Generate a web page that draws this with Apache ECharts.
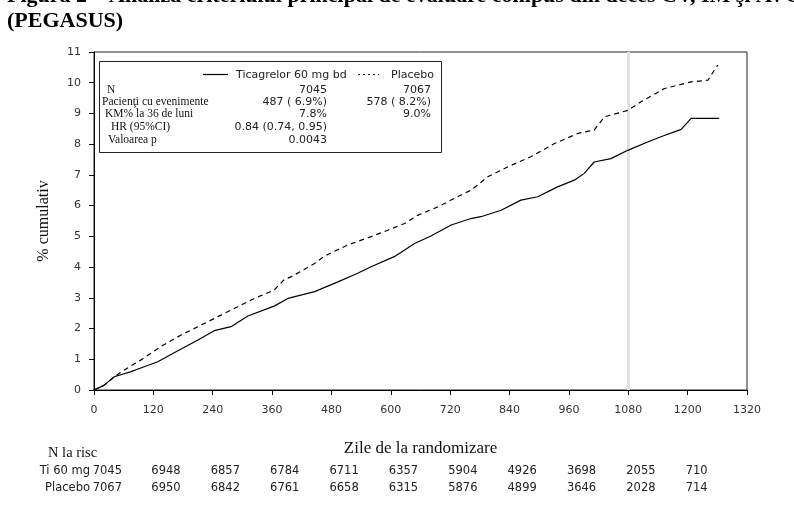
<!DOCTYPE html>
<html>
<head>
<meta charset="utf-8">
<script src="https://cdn.jsdelivr.net/npm/echarts@6.0.0/dist/echarts.min.js"></script>
<style>
html, body { margin: 0; padding: 0; background: #fff; }
#chart { width: 794px; height: 521px; }
</style>
</head>
<body>
<div id="chart"></div>
<script>
// curbe Kaplan-Meier (zile, % cumulativ)
var ticaDays = [0, 20, 41, 75, 100, 129, 162, 210, 243, 277, 311, 364, 392, 446, 493, 533, 560, 607, 648, 681, 722, 762, 782, 823, 863, 897, 937, 971, 991, 1011, 1045, 1079, 1119, 1146, 1187, 1207, 1264];
var ticaPct  = [0, 0.15, 0.43, 0.6, 0.75, 0.92, 1.21, 1.63, 1.93, 2.06, 2.41, 2.73, 2.98, 3.2, 3.52, 3.8, 4.01, 4.34, 4.77, 5.01, 5.37, 5.58, 5.64, 5.85, 6.18, 6.29, 6.61, 6.83, 7.05, 7.42, 7.53, 7.8, 8.07, 8.24, 8.48, 8.84, 8.84];
var placDays = [0, 20, 41, 61, 95, 135, 176, 230, 277, 324, 364, 385, 398, 446, 466, 513, 560, 594, 628, 655, 695, 735, 762, 796, 836, 883, 931, 978, 1011, 1032, 1079, 1106, 1153, 1207, 1241, 1254, 1261];
var placPct  = [0, 0.15, 0.43, 0.65, 0.98, 1.41, 1.79, 2.22, 2.6, 2.98, 3.25, 3.6, 3.68, 4.12, 4.36, 4.72, 4.99, 5.2, 5.42, 5.69, 5.96, 6.29, 6.5, 6.94, 7.26, 7.59, 8.02, 8.35, 8.46, 8.89, 9.1, 9.38, 9.81, 10.03, 10.08, 10.41, 10.57];

var seriesNames = ['Ticagrelor 60 mg bd', 'Placebo'];

// caseta cu statistici
var statLabels = ['N', 'Pacienţi cu evenimente', 'KM% la 36 de luni', 'HR (95%CI)', 'Valoarea p'];
var statTica = ['7045', '487 ( 6.9%)', '7.8%', '0.84 (0.74, 0.95)', '0.0043'];
var statPlac = ['7067', '578 ( 8.2%)', '9.0%', '', ''];

// tabel N la risc
var riskDays = [0, 120, 240, 360, 480, 600, 720, 840, 960, 1080, 1200];
var riskLabels = ['Ti 60 mg', 'Placebo'];
var riskTica = [7045, 6948, 6857, 6784, 6711, 6357, 5904, 4926, 3698, 2055, 710];
var riskPlac = [7067, 6950, 6842, 6761, 6658, 6315, 5876, 4899, 3646, 2028, 714];

var titleLines = ['Figura 2 – Analiza criteriului principal de evaluare compus din deces CV, IM şi AVC', '(PEGASUS)'];

var SANS = '"DejaVu Sans"';
var SERIF = '"Liberation Serif"';

function pairs(xs, ys) {
    var res = [];
    for (var i = 0; i < xs.length; i++) {
        res.push([xs[i], ys[i]]);
    }
    return res;
}

var myChart = echarts.init(document.getElementById('chart'), null, {renderer: 'canvas'});

var option = {
    animation: false,
    backgroundColor: '#fff',
    grid: {
        left: 94, right: 47, top: 52, bottom: 131,
        show: true, borderColor: '#222', borderWidth: 1
    },
    xAxis: {
        type: 'value',
        min: 0, max: 1320, interval: 120,
        name: 'Zile de la randomizare',
        nameLocation: 'middle',
        nameGap: 50,
        nameTextStyle: {fontFamily: SERIF, fontSize: 17, color: '#111'},
        axisLine: {lineStyle: {color: '#000', width: 1}},
        axisTick: {inside: false, length: 5, lineStyle: {color: '#000'}},
        axisLabel: {
            margin: 15, fontFamily: SANS, fontSize: 11, color: '#333',
            formatter: function (v) { return String(v); }
        },
        splitLine: {show: false}
    },
    yAxis: {
        type: 'value',
        min: 0, max: 11, interval: 1,
        name: '% cumulativ',
        nameLocation: 'middle',
        nameRotate: 90,
        nameGap: 42,
        nameTextStyle: {fontFamily: SERIF, fontSize: 16, color: '#111'},
        axisLine: {show: true, lineStyle: {color: '#000', width: 1}},
        axisTick: {show: true, inside: false, length: 5, lineStyle: {color: '#000'}},
        axisLabel: {margin: 13, fontFamily: SANS, fontSize: 11, color: '#333'},
        splitLine: {show: false}
    },
    series: [
        {
            name: seriesNames[0],
            type: 'line',
            data: pairs(ticaDays, ticaPct),
            showSymbol: false,
            lineStyle: {color: '#000', width: 1.2},
            z: 3,
            markLine: {
                silent: true,
                symbol: 'none',
                label: {show: false},
                lineStyle: {color: '#e2e2e2', width: 3, type: 'solid'},
                data: [{xAxis: 1080}],
                z: 1
            }
        },
        {
            name: seriesNames[1],
            type: 'line',
            data: pairs(placDays, placPct),
            showSymbol: false,
            lineStyle: {color: '#000', width: 1.2, type: [5, 4]},
            z: 3
        }
    ]
};

myChart.setOption(option);

// elemente grafice: titlu, caseta statistici, tabel la risc
var g = [];

g.push({type: 'text', z: 100, style: {text: titleLines[0], x: 7, y: -4, font: 'bold 22px ' + SERIF, fill: '#000', textVerticalAlign: 'middle'}});
g.push({type: 'text', z: 100, style: {text: titleLines[1], x: 7, y: 21, font: 'bold 22px ' + SERIF, fill: '#000', textVerticalAlign: 'middle'}});

// caseta
g.push({type: 'rect', z: 100, shape: {x: 99.5, y: 61.5, width: 342, height: 91}, style: {fill: '#fff', stroke: '#222', lineWidth: 1}});
g.push({type: 'line', z: 101, shape: {x1: 203, y1: 74.5, x2: 228, y2: 74.5}, style: {stroke: '#000', lineWidth: 1.2}});
g.push({type: 'text', z: 101, style: {text: seriesNames[0], x: 236, y: 75, font: '11px ' + SANS, fill: '#222', textVerticalAlign: 'middle'}});
g.push({type: 'line', z: 101, shape: {x1: 358, y1: 74.5, x2: 379, y2: 74.5}, style: {stroke: '#000', lineWidth: 1.2, lineDash: [2, 3]}});
g.push({type: 'text', z: 101, style: {text: seriesNames[1], x: 391, y: 75, font: '11px ' + SANS, fill: '#222', textVerticalAlign: 'middle'}});

var rowY = [90, 102, 114, 127, 140];
var rowX = [107, 102, 105, 111, 108];
for (var i = 0; i < statLabels.length; i++) {
    g.push({type: 'text', z: 101, style: {text: statLabels[i], x: rowX[i], y: rowY[i], font: '11.5px ' + SERIF, fill: '#111', textVerticalAlign: 'middle'}});
    g.push({type: 'text', z: 101, style: {text: statTica[i], x: 327, y: rowY[i], font: '11px ' + SANS, fill: '#222', textAlign: 'right', textVerticalAlign: 'middle'}});
    if (statPlac[i]) {
        g.push({type: 'text', z: 101, style: {text: statPlac[i], x: 431, y: rowY[i], font: '11px ' + SANS, fill: '#222', textAlign: 'right', textVerticalAlign: 'middle'}});
    }
}

// N la risc
g.push({type: 'text', z: 100, style: {text: 'N la risc', x: 48, y: 453, font: '14.5px ' + SERIF, fill: '#111', textVerticalAlign: 'middle'}});
var riskRows = [riskTica, riskPlac];
var riskY = [471, 488];
for (var r = 0; r < riskRows.length; r++) {
    g.push({type: 'text', z: 100, style: {text: riskLabels[r], x: 90, y: riskY[r], font: '11.5px ' + SANS, fill: '#222', textAlign: 'right', textVerticalAlign: 'middle'}});
    for (var k = 0; k < riskDays.length; k++) {
        var px = myChart.convertToPixel({xAxisIndex: 0}, riskDays[k]);
        if (k === 0) {
            g.push({type: 'text', z: 100, style: {text: String(riskRows[r][k]), x: px + 28, y: riskY[r], font: '11.5px ' + SANS, fill: '#222', textAlign: 'right', textVerticalAlign: 'middle'}});
        } else {
            g.push({type: 'text', z: 100, style: {text: String(riskRows[r][k]), x: px - 2, y: riskY[r], font: '11.5px ' + SANS, fill: '#222', textAlign: 'left', textVerticalAlign: 'middle'}});
        }
    }
}

myChart.setOption({graphic: g});
</script>
</body>
</html>
